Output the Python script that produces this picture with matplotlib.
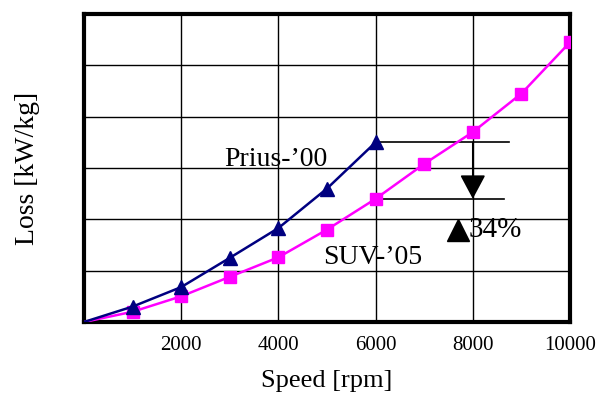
import matplotlib.pyplot as plt

# Dane (oś Y bez podziałki - jednostki umowne).
speed_prius = [0, 1000, 2000, 3000, 4000, 5000, 6000]
loss_prius = [0, 0.3, 0.68, 1.25, 1.83, 2.6, 3.5]
speed_suv = [0, 1000, 2000, 3000, 4000, 5000, 6000, 7000, 8000, 9000, 10000]
loss_suv = [0, 0.2, 0.5, 0.88, 1.26, 1.8, 2.4, 3.08, 3.7, 4.45, 5.45]
xticks = [2000, 4000, 6000, 8000, 10000]

plt.rcParams['font.family'] = ['Liberation Serif', 'DejaVu Serif']

fig = plt.figure(figsize=(6.07, 4.01), dpi=100)
ax = fig.add_axes([84 / 607, 1 - 322 / 401, 486 / 607, 308 / 401])

ax.plot(speed_prius, loss_prius, color='#000080', lw=1.8, marker='^', ms=10,
        markevery=list(range(1, len(speed_prius))), zorder=4)
ax.plot(speed_suv, loss_suv, color='#ff00ff', lw=1.8, marker='s', ms=9,
        markevery=list(range(1, len(speed_suv))), zorder=3)

# Strzałka pokazująca redukcję strat.
ax.plot([6000, 8750], [loss_prius[-1]] * 2, color='black', lw=1.2, zorder=2)
ax.plot([6000, 8650], [loss_suv[6]] * 2, color='black', lw=1.2, zorder=2)
ax.annotate('', xy=(8000, loss_suv[6]), xytext=(8000, loss_prius[-1]),
            arrowprops=dict(arrowstyle='-|>,head_width=0.8,head_length=1.5',
                            color='black', lw=1.2, shrinkA=0, shrinkB=0))

ax.text(3950, 3.16, 'Prius-\u201900', fontsize=20, ha='center', va='center')
ax.text(5930, 1.25, 'SUV-\u201905', fontsize=20, ha='center', va='center')
ax.plot([7700], [1.8], marker='^', ms=16, color='black', zorder=5)
ax.text(7920, 1.8, '34%', fontsize=21, ha='left', va='center')

ax.set_xlim(0, 10000)
ax.set_ylim(0, 6)
ax.set_xticks(xticks)
ax.set_xticklabels([str(t) for t in xticks], fontsize=15)
ax.set_yticks(range(7))
ax.set_yticklabels([])
ax.tick_params(length=0, pad=10)
ax.grid(True, color='black', lw=1.0)
for s in ax.spines.values():
    s.set_linewidth(3)

ax.set_xlabel('Speed [rpm]', fontsize=19)
ax.xaxis.set_label_coords(0.5, -0.155)
ax.set_ylabel('Loss [kW/kg]', fontsize=20)
ax.yaxis.set_label_coords(-0.09, 0.5)

fig.savefig('out.png', dpi=100)
